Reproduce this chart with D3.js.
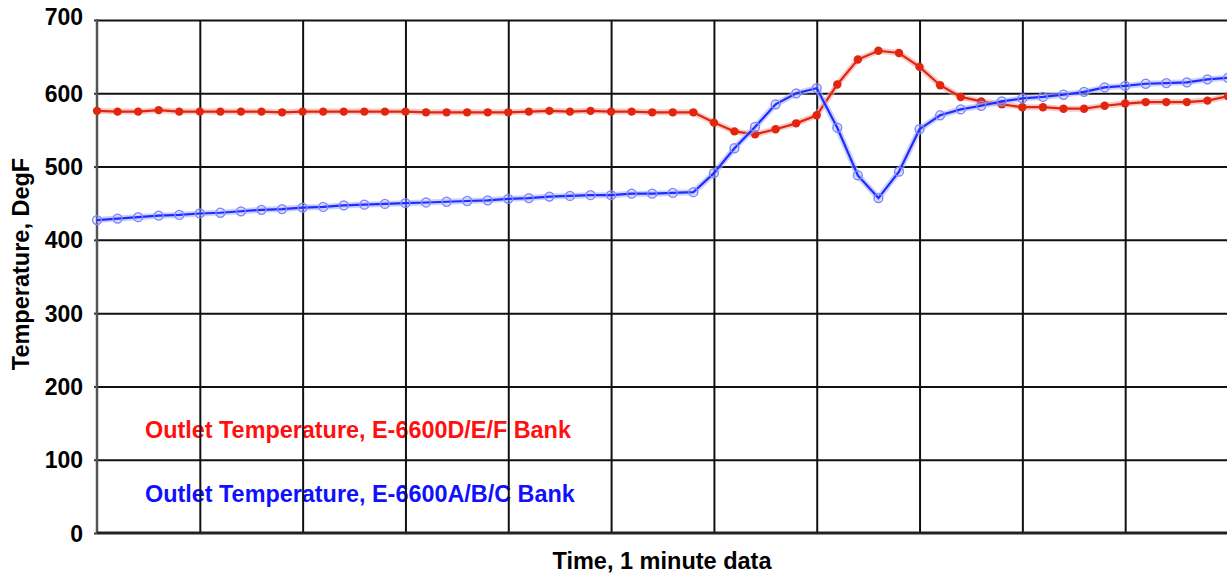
<!DOCTYPE html>
<html>
<head>
<meta charset="utf-8">
<script src="https://cdn.jsdelivr.net/npm/d3@7/dist/d3.min.js"></script>
<style>
  html, body { margin: 0; padding: 0; background: #fff; }
  svg { display: block; font-family: "Liberation Sans", Arial, Helvetica, sans-serif; }
</style>
</head>
<body>
<svg id="chart" width="1227" height="577"></svg>
<script>
// Data: one point per minute
const minutes = d3.range(0, 56);
const redSeries = [576, 575, 575, 577, 575, 575, 575, 575, 575, 574,
  575, 575, 575, 575, 575, 575, 574, 574, 574, 574,
  574, 575, 576, 575, 576, 575, 575, 574, 574, 574,
  560, 548, 544, 551, 559, 570, 612, 646, 658, 655,
  636, 611, 595, 589, 585, 581, 581, 579, 579, 583,
  586, 588, 588, 588, 590, 596];
const blueSeries = [427, 429, 431, 433, 434, 436, 437, 439, 441, 442,
  444, 445, 447, 448, 449, 450, 451, 452, 453, 454,
  456, 457, 459, 460, 461, 461, 463, 463, 464, 465,
  491, 525, 554, 585, 600, 607, 553, 488, 457, 493,
  551, 570, 578, 583, 589, 593, 595, 598, 602, 608,
  610, 613, 614, 615, 619, 621];
const yTicks = [0, 100, 200, 300, 400, 500, 600, 700];
const xGrid = [5, 10, 15, 20, 25, 30, 35, 40, 45, 50, 55];
const redLabel = "Outlet Temperature, E-6600D/E/F Bank";
const blueLabel = "Outlet Temperature, E-6600A/B/C Bank";
const yTitle = "Temperature, DegF";
const xTitle = "Time, 1 minute data";

const svg = d3.select("#chart");
const mLeft = 97, mRight = 1228, mTop = 20, mBottom = 533;
const x = d3.scaleLinear().domain([0, 55]).range([mLeft, mRight]);
const y = d3.scaleLinear().domain([0, 700]).range([mBottom, mTop]);

// Legend texts (under the grid, as in the reference)
svg.append("text").attr("x", 145).attr("y", 438).text(redLabel)
  .attr("font-size", 23.4).attr("font-weight", "bold").attr("fill", "#ff1010");
svg.append("text").attr("x", 145).attr("y", 502).text(blueLabel)
  .attr("font-size", 23.4).attr("font-weight", "bold").attr("fill", "#1010ff");

// Horizontal grid
svg.append("g")
  .attr("transform", `translate(${mLeft},0)`)
  .call(d3.axisLeft(y).tickValues(yTicks.filter(d => d > 0)).tickSize(-(mRight - mLeft)).tickFormat(""))
  .call(g => g.select(".domain").remove())
  .call(g => g.selectAll("line").attr("stroke", "#111").attr("stroke-width", 2));

// Vertical grid
svg.append("g")
  .attr("transform", `translate(0,${mBottom})`)
  .call(d3.axisBottom(x).tickValues(xGrid).tickSize(-(mBottom - mTop)).tickFormat(""))
  .call(g => g.select(".domain").remove())
  .call(g => g.selectAll("line").attr("stroke", "#111").attr("stroke-width", 2));

// Y axis with labels
const yAx = svg.append("g")
  .attr("transform", `translate(${mLeft},0)`)
  .call(d3.axisLeft(y).tickValues(yTicks).tickSize(3).tickPadding(11))
  .call(g => g.select(".domain").remove());
yAx.selectAll("line").attr("stroke", "#333").attr("stroke-width", 2);
yAx.selectAll("text")
  .attr("font-family", "'Liberation Sans', Arial, Helvetica, sans-serif")
  .attr("font-size", 23).attr("font-weight", "bold").attr("fill", "#000")
  .attr("dy", d => d === 700 ? "0.2em" : "0.35em");

// Axis lines
svg.append("line").attr("x1", mLeft).attr("x2", mLeft).attr("y1", mTop - 1).attr("y2", mBottom + 1)
  .attr("stroke", "#555").attr("stroke-width", 2.5);
svg.append("line").attr("x1", mLeft).attr("x2", mRight).attr("y1", mBottom).attr("y2", mBottom)
  .attr("stroke", "#222").attr("stroke-width", 3);

const line = d3.line().x((d, i) => x(minutes[i])).y(d => y(d));

// Red series
svg.append("path").datum(redSeries).attr("d", line)
  .attr("fill", "none").attr("stroke", "#f2a9a4").attr("stroke-width", 6).attr("opacity", 0.6);
svg.append("path").datum(redSeries).attr("d", line)
  .attr("fill", "none").attr("stroke", "#e1250f").attr("stroke-width", 2.2);
svg.append("g").selectAll("circle").data(redSeries).join("circle")
  .attr("cx", (d, i) => x(minutes[i])).attr("cy", d => y(d)).attr("r", 4.2)
  .attr("fill", "#e1250f");

// Blue series
svg.append("path").datum(blueSeries).attr("d", line)
  .attr("fill", "none").attr("stroke", "#aab2ff").attr("stroke-width", 6).attr("opacity", 0.6);
svg.append("path").datum(blueSeries).attr("d", line)
  .attr("fill", "none").attr("stroke", "#1e2cff").attr("stroke-width", 2.2);
svg.append("g").selectAll("circle").data(blueSeries).join("circle")
  .attr("cx", (d, i) => x(minutes[i])).attr("cy", d => y(d)).attr("r", 4.4)
  .attr("fill", "none").attr("stroke", "#7d88ff").attr("stroke-width", 1.5);

// Axis titles
svg.append("text").attr("transform", "translate(29,264) rotate(-90)")
  .attr("text-anchor", "middle").attr("font-size", 23.5).attr("font-weight", "bold").text(yTitle);
svg.append("text").attr("x", 662).attr("y", 569)
  .attr("text-anchor", "middle").attr("font-size", 23.5).attr("font-weight", "bold").text(xTitle);
</script>
</body>
</html>
